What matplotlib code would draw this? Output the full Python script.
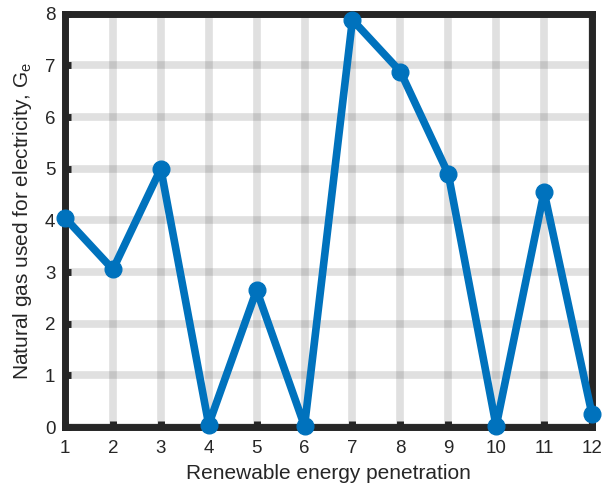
import matplotlib.pyplot as plt

# Datos
penetracion = [1, 2, 3, 4, 5, 6, 7, 8, 9, 10, 11, 12]
gas = [4.05, 3.05, 5.0, 0.05, 2.65, 0.02, 7.88, 6.88, 4.9, 0.02, 4.55, 0.25]

plt.rcParams['font.family'] = ['Liberation Sans', 'DejaVu Sans']

fig = plt.figure(figsize=(6.04, 4.87), dpi=100)
ax = fig.add_axes([0.1076, 0.123, 0.8725, 0.849])

ax.plot(penetracion, gas, color='#0072BD', linewidth=5.5, marker='o',
        markersize=12, clip_on=False, zorder=3)

ax.set_xlim(1, 12)
ax.set_ylim(0, 8)
ax.set_xticks(penetracion)
ax.set_yticks(range(0, 9))

ax.grid(True, color='#262626', alpha=0.14, linewidth=5.5)
ax.set_axisbelow(True)

for s in ax.spines.values():
    s.set_linewidth(5)
    s.set_color('#262626')

ax.tick_params(direction='in', length=4, width=5, color='#262626',
               labelsize=13.5, labelcolor='#262626')
ax.tick_params(axis='x', pad=9)
ax.tick_params(axis='y', pad=7)

ax.set_xlabel('Renewable energy penetration', fontsize=15, color='#262626', labelpad=5)
ax.set_ylabel('Natural gas used for electricity, G$_\\mathregular{e}$', fontsize=15,
              color='#262626', labelpad=8)

fig.savefig('out.png', dpi=100)
